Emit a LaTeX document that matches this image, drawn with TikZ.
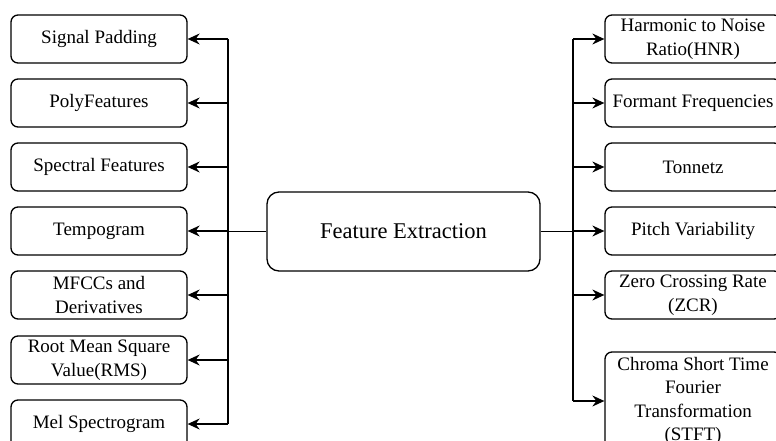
\documentclass[tikz,border=0pt]{standalone}
\usepackage{fontspec}
\setmainfont{Liberation Serif}
\usepackage{tikz}
\usetikzlibrary{arrows.meta}

\tikzset{
	featbox/.style = {rectangle,
		draw = black,
		text = black,
		fill = white,
		line width = 1.3pt,
		rounded corners = 7pt,
		align = center,
		inner sep = 1pt,
		font = \fontsize{19}{23.5}\selectfont,
		minimum width = 176pt,
		minimum height = 48pt},
	mainbox/.style = {featbox,
		rounded corners = 12pt,
		font = \fontsize{22.5}{27}\selectfont,
		minimum width = 273pt,
		minimum height = 79pt},
	link/.style = {line width = 1.3pt},
	arr/.style = {link, -{Stealth[length=12pt, width=11pt, inset=4pt]}}
}

\begin{document}
\begin{tikzpicture}[x=1pt, y=-1pt]
			
			\useasboundingbox (0,0) rectangle (776,441);
			\clip (0,0) rectangle (776,441);
			
			% centre
			\node[mainbox] (fe) at (403.5,231.5) {Feature Extraction};
			
			% left side
			\node[featbox] (pad) at (99,39) {Signal Padding};
			\node[featbox] (poly) at (99,103) {PolyFeatures};
			\node[featbox] (spec) at (99,167) {Spectral Features};
			\node[featbox] (tempo) at (99,231) {Tempogram};
			\node[featbox] (mfcc) at (99,295) {MFCCs and \\ Derivatives};
			\node[featbox] (rms) at (99,360) {Root Mean Square \\ Value(RMS)};
			\node[featbox] (mel) at (99,424) {Mel Spectrogram};
			
			% right side
			\node[featbox] (hnr) at (693,39) {Harmonic to Noise \\ Ratio(HNR)};
			\node[featbox] (form) at (693,103) {Formant Frequencies};
			\node[featbox] (tonn) at (693,167) {Tonnetz};
			\node[featbox] (pitch) at (693,231) {Pitch Variability};
			\node[featbox] (zcr) at (693,295) {Zero Crossing Rate \\ (ZCR)};
			\node[featbox, minimum height = 98pt] (stft) at (693,401) {Chroma Short Time \\ Fourier \\ Transformation \\ (STFT)};
			
			\coordinate (lbus) at (228,231.5);
			\coordinate (rbus) at (573,231.5);
			
			\draw[link] (fe.west) -- (lbus);
			\draw[link] (lbus |- pad.east) -- (lbus |- mel.east);
			\foreach \n in {pad,poly,spec,tempo,mfcc,rms,mel}
				\draw[arr] (lbus |- \n.east) -- (\n.east);
			
			\draw[link] (fe.east) -- (rbus);
			\draw[link] (rbus |- hnr.west) -- (rbus |- stft.west);
			\foreach \n in {hnr,form,tonn,pitch,zcr,stft}
				\draw[arr] (rbus |- \n.west) -- (\n.west);
			
		\end{tikzpicture}
\end{document}
